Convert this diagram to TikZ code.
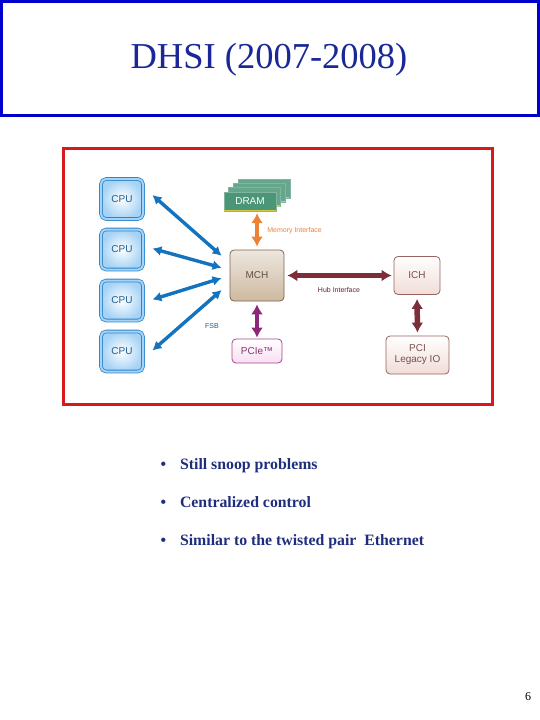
\documentclass[tikz,border=0pt]{standalone}
\usepackage{fontspec}
\setmainfont{Liberation Serif}
\setsansfont{Liberation Sans}
\usepackage{tikz}
\usetikzlibrary{arrows.meta,calc}
\usepackage{xcolor}

\definecolor{titleblue}{RGB}{25,40,150}
\definecolor{frameblue}{RGB}{0,0,205}
\definecolor{framered}{RGB}{215,25,30}
\definecolor{cpuedge}{RGB}{45,135,205}
\definecolor{cpuglow}{RGB}{165,210,245}
\definecolor{fsbblue}{RGB}{20,115,190}
\definecolor{memorange}{RGB}{235,130,55}
\definecolor{dramgreen}{RGB}{75,150,120}
\definecolor{dramgold}{RGB}{215,200,60}
\definecolor{mchedge}{RGB}{125,100,80}
\definecolor{mchfill}{RGB}{205,185,160}
\definecolor{hubred}{RGB}{125,45,55}
\definecolor{ichedge}{RGB}{150,100,95}
\definecolor{ichfill}{RGB}{240,220,215}
\definecolor{pcieedge}{RGB}{165,70,140}
\definecolor{pciefill}{RGB}{248,222,240}
\definecolor{pciepurple}{RGB}{140,40,120}
\definecolor{bulletblue}{RGB}{30,45,125}

\begin{document}
\begin{tikzpicture}[
    x=1pt, y=-1pt,
    cpu box/.style={rounded corners=5pt, draw=cpuedge, line width=0.8pt,
        double=cpuglow, double distance=2pt, inner color=white, outer color=cpuglow,
        minimum width=42pt, minimum height=40pt, inner sep=0pt,
        font=\sffamily\fontsize{10}{10}\selectfont, text=cpuedge!70!black},
    dram card/.style={draw=dramgreen!70!white, fill=dramgreen, minimum width=52pt,
        minimum height=19pt, inner sep=0pt},
    chip/.style={rounded corners=4pt, line width=0.8pt, inner sep=0pt,
        font=\sffamily\fontsize{10}{11}\selectfont, align=center},
    fsb/.style={{Latex[length=9pt,width=10pt]}-{Latex[length=9pt,width=10pt]},
        line width=3.4pt, fsbblue},
    bus/.style={{Latex[length=10pt,width=12pt]}-{Latex[length=10pt,width=12pt]},
        line width=4.4pt},
    tag/.style={font=\sffamily\fontsize{7}{7}\selectfont},
    point/.style={anchor=base west, font=\bfseries\fontsize{15.8}{16}\selectfont,
        text=bulletblue},
]
\useasboundingbox (0,0) rectangle (540,720);

% === Title frame ===
\draw[frameblue, line width=3pt] (1.5,1.5) rectangle (538.5,115.5);
\node[font=\fontsize{36.5}{36}\selectfont, text=titleblue] (title) at (269,60) {DHSI (2007-2008)};

% === Diagram frame ===
\draw[framered, line width=3pt] (63,148) rectangle (492,404);

% === CPUs ===
\node[cpu box] (cpu1) at (122,199) {CPU};
\node[cpu box] (cpu2) at (122,249.5) {CPU};
\node[cpu box] (cpu3) at (122,300.5) {CPU};
\node[cpu box] (cpu4) at (122,351.5) {CPU};

% === DRAM (stacked cards) ===
\foreach \k in {3,2,1} {
    \node[dram card, fill=dramgreen!85!white] at ($(250,201.5)+(4.6*\k,-4.4*\k)$) {};
    \draw[dramgold, line width=1.4pt] ($(224.5,210.5)+(4.6*\k,-4.4*\k)$) -- ++(51,0);
}
\node[dram card, text=white, font=\sffamily\fontsize{10}{10}\selectfont] (dram) at (250,201.5) {DRAM};
\draw[dramgold, line width=1.6pt] ($(dram.south west)+(0.5,-0.8)$) -- ($(dram.south east)+(-0.5,-0.8)$);

% === Chipset ===
\node[chip, draw=mchedge, top color=mchfill!35!white, bottom color=mchfill,
    minimum width=54pt, minimum height=51pt, text=mchedge!80!black] (mch) at (257,275.5) {MCH};
\node[chip, draw=ichedge, top color=white, bottom color=ichfill,
    minimum width=46pt, minimum height=38pt, text=ichedge!80!black] (ich) at (417,275.5) {ICH};
\node[chip, draw=ichedge, top color=white, bottom color=ichfill,
    minimum width=63pt, minimum height=38pt, text=ichedge!80!black] (pci) at (417.5,355) {PCI\\Legacy IO};
\node[chip, draw=pcieedge, top color=white, bottom color=pciefill,
    minimum width=50pt, minimum height=24pt, text=pcieedge!80!black] (pcie) at (257,351) {PCIe\texttrademark};

% === FSB links ===
\foreach \i/\f/\dy in {1/0.12/4, 2/0.35/1, 3/0.55/1, 4/0.78/1} {
    \coordinate (in\i) at ($(mch.north west)!\f!(mch.south west)+(-8,0)$);
    \draw[fsb] ([xshift=9pt,yshift=\dy pt]cpu\i.east) -- (in\i);
}
\node[tag, text=fsbblue!80!black] (fsblabel) at (212,326) {FSB};

% === Memory, hub and I/O links ===
\draw[bus, memorange, line width=4pt, shorten <=2pt, shorten >=3pt] ([xshift=7pt]dram.south) -- (mch.north)
    node[midway, right=5pt, tag, text=memorange] (memlabel) {Memory Interface};
\draw[bus, hubred, shorten <=3pt, shorten >=2pt] (mch.east) -- (ich.west)
    node[midway, below=6pt, tag, text=hubred!80!black] (hublabel) {Hub Interface};
\draw[bus, pciepurple, shorten <=3pt, shorten >=1pt] (mch.south) -- (pcie.north);
\draw[bus, hubred, line width=5.5pt, shorten <=4pt, shorten >=3pt] (ich.south) -- (pci.north);

% === Bullet points ===
\node[point] (b1) at (157,469) {\textbullet\hspace{14pt}Still snoop problems};
\node[point] (b2) at (157,507) {\textbullet\hspace{14pt}Centralized control};
\node[point] (b3) at (157,545) {\textbullet\hspace{14pt}Similar to the twisted pair\ \ Ethernet};

% === Page number ===
\node[font=\fontsize{12}{12}\selectfont] (page) at (528,697) {6};

\end{tikzpicture}
\end{document}
